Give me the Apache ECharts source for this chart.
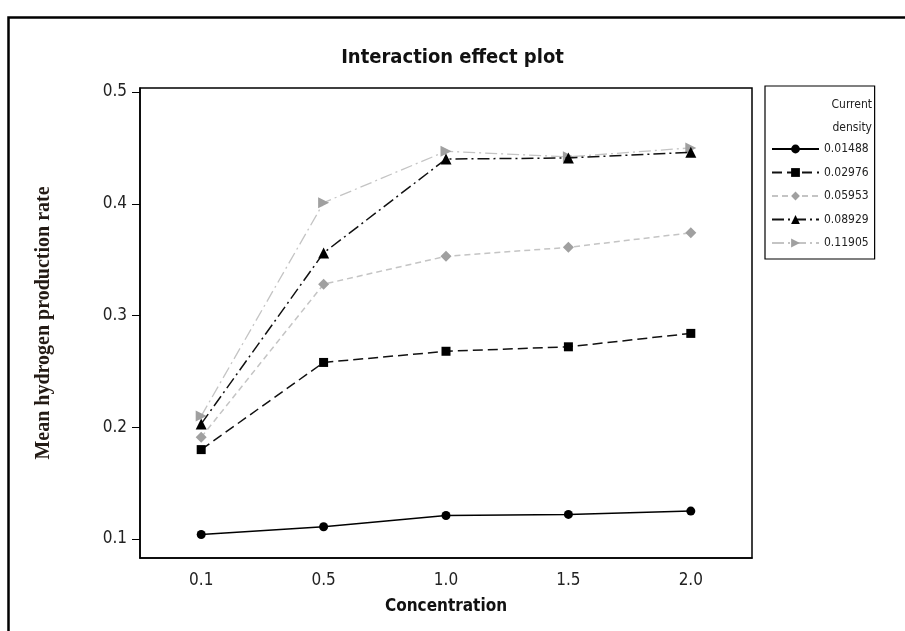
<!DOCTYPE html>
<html><head><meta charset="utf-8">
<script src="https://cdn.jsdelivr.net/npm/echarts@6/dist/echarts.min.js"></script>
<style>html,body{margin:0;padding:0;background:#fff}#c{width:905px;height:631px}</style>
</head><body><div id="c"></div>
<script>
const concentrations = ['0.1', '0.5', '1.0', '1.5', '2.0'];
const yTicks = [0.1, 0.2, 0.3, 0.4, 0.5];
const densityNames = ['0.01488', '0.02976', '0.05953', '0.08929', '0.11905'];
const d01488 = [0.104, 0.111, 0.121, 0.122, 0.125];
const d02976 = [0.180, 0.258, 0.268, 0.272, 0.284];
const d05953 = [0.191, 0.328, 0.353, 0.361, 0.374];
const d08929 = [0.203, 0.356, 0.440, 0.441, 0.446];
const d11905 = [0.210, 0.401, 0.447, 0.442, 0.450];
const seriesValues = [d01488, d02976, d05953, d08929, d11905];

const styles = [
  {symbol: 'circle', size: 9, rot: 0, mColor: '#000', lColor: '#000', type: 'solid', w: 1.5},
  {symbol: 'rect', size: 9, rot: 0, mColor: '#000', lColor: '#111', type: [10, 5], w: 1.5},
  {symbol: 'diamond', size: 11, rot: 0, mColor: '#a0a0a0', lColor: '#c4c4c4', type: [6, 4], w: 1.5},
  {symbol: 'triangle', size: 11, rot: 0, mColor: '#000', lColor: '#111', type: [12, 4, 2, 4], w: 1.5},
  {symbol: 'triangle', size: 11, rot: -90, mColor: '#a0a0a0', lColor: '#c4c4c4', type: [12, 4, 2, 4], w: 1.3}
];

const FONT = 'DejaVu Sans Condensed, DejaVu Sans, sans-serif';
const chart = echarts.init(document.getElementById('c'), null, {renderer: 'canvas'});
const series = seriesValues.map((vals, i) => ({
  name: densityNames[i],
  type: 'line',
  data: vals,
  symbol: styles[i].symbol,
  symbolSize: styles[i].size,
  symbolRotate: styles[i].rot,
  itemStyle: {color: styles[i].mColor},
  lineStyle: {color: styles[i].lColor, type: styles[i].type, width: styles[i].w},
  animation: false,
  z: 10 - i
}));

chart.setOption({
  animation: false,
  backgroundColor: '#fff',
  title: {
    text: 'Interaction effect plot',
    left: 'center', top: 43,
    textStyle: {fontFamily: FONT, fontWeight: 'bold', fontSize: 20, color: '#111'}
  },
  grid: {left: 140, top: 88, width: 612, height: 470, show: true, borderColor: '#000', borderWidth: 1.5, containLabel: false},
  xAxis: {
    type: 'category',
    data: concentrations,
    boundaryGap: true,
    name: 'Concentration',
    nameLocation: 'middle',
    nameGap: 40,
    nameTextStyle: {fontFamily: FONT, fontWeight: 'bold', fontSize: 17, color: '#111'},
    axisLine: {lineStyle: {color: '#000', width: 1.5}},
    axisTick: {alignWithLabel: true, length: 8, lineStyle: {color: '#000'}},
    axisLabel: {fontFamily: FONT, fontSize: 17, color: '#222', margin: 14},
    splitLine: {show: false}
  },
  yAxis: {
    type: 'value',
    min: 0.083, max: 0.5036,
    name: 'Mean hydrogen production rate',
    nameLocation: 'middle',
    nameGap: 86,
    nameTextStyle: {fontFamily: 'Liberation Serif, DejaVu Serif, serif', fontWeight: 'bold', fontSize: 20, color: '#231a14'},
    axisLine: {show: true, lineStyle: {color: '#000', width: 1.5}},
    axisTick: {show: true, length: 8, customValues: yTicks, lineStyle: {color: '#000'}},
    axisLabel: {customValues: yTicks, formatter: v => v.toFixed(1), fontFamily: FONT, fontSize: 17, color: '#222', margin: 13},
    splitLine: {show: false}
  },
  legend: {
    orient: 'vertical',
    left: 765, top: 86,
    padding: [57, 6, 10, 6],
    itemWidth: 47, itemHeight: 11, itemGap: 11.5,
    borderColor: '#000', borderWidth: 1.2,
    textStyle: {fontFamily: FONT, fontSize: 12, color: '#222'},
    data: densityNames
  },
  graphic: [
    {type: 'rect', left: 6, top: 15, shape: {width: 1000, height: 1000}, style: {fill: 'none', stroke: '#000', lineWidth: 2.5}, silent: true},
    {type: 'text', x: 872, y: 99, style: {text: 'Current', align: 'right', fontFamily: FONT, fontSize: 12, fill: '#222'}},
    {type: 'text', x: 872, y: 122, style: {text: 'density', align: 'right', fontFamily: FONT, fontSize: 12, fill: '#222'}}
  ],
  series: series
});
</script></body></html>
